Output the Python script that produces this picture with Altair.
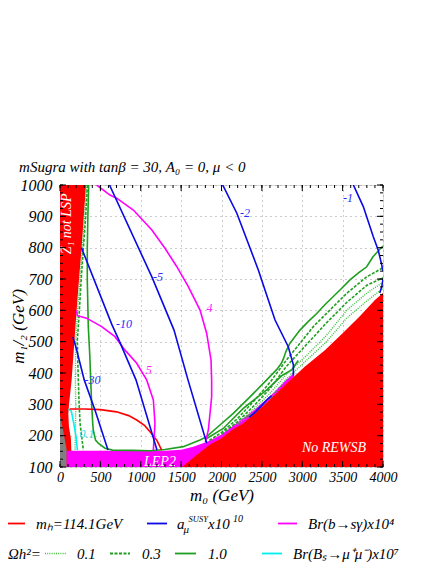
import altair as alt
import pandas as pd

# ---------------- data (m0, m1/2 in GeV) ----------------
x_grid = [0, 500, 1000, 1500, 2000, 2500, 3000, 3500, 4000]
y_grid = [100, 200, 300, 400, 500, 600, 700, 800, 900, 1000]

# No REWSB region boundary (filled below)
rewsb_m0 = [1510, 1700, 1850, 2000, 2130, 2270, 2400, 2560, 2800, 3030, 3280, 3500, 3710, 3900, 4000]
rewsb_m12 = [100, 140, 170, 192, 218, 240, 268, 305, 365, 420, 473, 527, 580, 633, 655]

# LEP2 excluded region upper edge
lep_m0 = [83, 600, 1300, 1500, 1650, 1830, 2000, 2200, 2400, 2600, 2800, 2900]
lep_m12 = [152, 152, 152, 155, 165, 181, 204, 242, 281, 326, 378, 400]

# Z1 not LSP region (m0 edge as a function of m1/2)
z1_m12 = [100, 154, 190, 230, 270, 300, 378, 500, 600, 700, 800, 900, 1000]
z1_m0 = [140, 140, 135, 110, 103, 112, 144, 178, 206, 236, 268, 295, 322]

# grey region
grey_m12 = [100, 154, 215, 266]
grey_m0 = [83, 83, 40, 0]

# a_mu^SUSY x 10^10 contours
amu_m1_m0 = [3633, 3756, 3880, 3940, 3980, 4000]
amu_m1_m12 = [1000, 931, 835, 793, 750, 725]
amu_m1b_m0 = [4000, 3985, 3960]
amu_m1b_m12 = [700, 676, 655]
amu_m1c_m0 = [2340, 2420, 2480, 2560, 2620]
amu_m1c_m12 = [258, 276, 292, 314, 328]
amu_m2_m0 = [2015, 2190, 2456, 2580, 2663, 2827, 2890, 2890]
amu_m2_m12 = [1000, 910, 729, 633, 569, 484, 426, 392]
amu_m5_m0 = [613, 1139, 1412, 1585, 1817]
amu_m5_m12 = [1000, 706, 537, 378, 176]
amu_m10_m0 = [265, 640, 730, 941, 1201]
amu_m10_m12 = [800, 556, 505, 378, 154]
amu_m30_m0 = [160, 200, 300, 433, 594]
amu_m30_m12 = [515, 480, 378, 282, 154]

# Br(b -> s gamma) x 10^4 contours
bsg4_m0 = [454, 619, 702, 908, 1135, 1300, 1445, 1589, 1734, 1816, 1870, 1878, 1878, 1837, 1817, 1800]
bsg4_m12 = [1000, 968, 958, 920, 857, 798, 740, 676, 601, 527, 442, 378, 324, 218, 197, 180]
bsg5_m0 = [205, 215, 330, 516, 681, 805, 950, 1073, 1156, 1176, 1156]
bsg5_m12 = [600, 583, 575, 548, 516, 473, 431, 378, 314, 239, 154]

# m_h = 114.1 GeV
mh_m0 = [120, 300, 500, 700, 850, 950, 1050, 1130, 1200, 1259]
mh_m12 = [285, 285, 283, 276, 264, 250, 232, 208, 185, 154]

# Br(Bs -> mu mu) x 10^7
bsmm_m0 = [105, 140, 170, 200, 215]
bsmm_m12 = [285, 278, 240, 195, 154]

# Omega h^2 = 1.0 (solid)
oh10_m0 = [355, 345, 338, 338, 350, 370, 380, 392, 405, 412, 440, 474, 557, 650, 900, 1115,
           1300, 1527, 1734, 1817, 1981, 2146, 2353, 2560, 2680, 2740, 2766, 2800, 2848,
           2972, 3070, 3179, 3280, 3385, 3480, 3591, 3700, 3798, 3876, 3960, 4000]
oh10_m12 = [1000, 900, 800, 697, 550, 450, 378, 300, 240, 218, 186, 176, 160, 154, 153, 152,
            156, 165, 186, 197, 234, 271, 324, 378, 410, 430, 445, 470, 495,
            537, 563, 590, 618, 644, 668, 697, 720, 739, 771, 795, 805]
oh10b_m0 = [1817, 2022, 2270, 2560, 2750, 2869, 2950]
oh10b_m12 = [191, 223, 287, 346, 392, 410, 440]

# Omega h^2 = 0.3 (dashed)
oh03a_m0 = [340, 318, 290, 262, 240, 215, 222, 227, 235, 248, 289]
oh03a_m12 = [1000, 900, 800, 697, 600, 505, 420, 378, 314, 240, 154]
oh03b_m0 = [1850, 2000, 2200, 2400, 2600, 2800, 2972, 3137, 3385, 3550, 3798, 4000]
oh03b_m12 = [185, 210, 255, 310, 370, 440, 495, 548, 612, 654, 707, 736]
oh03c_m0 = [2000, 2200, 2400, 2600, 2800, 3050, 3300, 3550, 3800, 4000]
oh03c_m12 = [205, 245, 295, 350, 420, 490, 560, 625, 680, 704]

# Omega h^2 = 0.1 (dotted)
oh01a_m0 = [330, 305, 278, 246, 218, 195, 190, 195, 192, 186]
oh01a_m12 = [1000, 900, 800, 697, 600, 505, 378, 300, 220, 154]
oh01b_m0 = [2200, 2400, 2600, 2800, 3050, 3300, 3550, 3800, 4000]
oh01b_m12 = [240, 285, 335, 395, 455, 520, 600, 655, 690]
oh01c_m0 = [2200, 2400, 2600, 2800, 3050, 3300, 3550, 3800, 4000]
oh01c_m12 = [236, 275, 318, 380, 440, 500, 575, 630, 670]

# contour labels
lab_text = ["-1", "-2", "-5", "-10", "-30", "4", "5", "0.1"]
lab_m0 = [3566, 2290, 1215, 793, 403, 1850, 1100, 334]
lab_m12 = [958, 910, 707, 556, 378, 606, 410, 205]
lab_color = ["#2a2aff", "#2a2aff", "#2a2aff", "#2a2aff", "#2a2aff", "#ff22ff", "#ff22ff", "#22dddd"]

# region labels
reg_text = ["LEP2", "No REWSB", "Z\u0303\u2081 not LSP"]
reg_m0 = [1238, 3393, 87]
reg_m12 = [116, 161, 876]
reg_angle = [0, 0, 270]

# ---------------- styling ----------------
W, H = 323, 282
SERIF = "Liberation Serif"
RED, BLUE, MAG, GREEN, LGREEN, CYAN = "#ff0000", "#0a0ae6", "#ff00ff", "#1f9f1f", "#3cc03c", "#00f0f0"

xs = alt.Scale(domain=[0, 4000], nice=False, zero=False)
ys = alt.Scale(domain=[100, 1000], nice=False, zero=False)

AX_X = alt.Axis(
    values=x_grid, format="d", title="m\u2080 (GeV)", grid=True, gridDash=[1, 4], gridColor="#999",
    gridWidth=1, ticks=False, domain=False, labelPadding=3, labelFontSize=14,
    labelFont=SERIF, labelFontStyle="italic", labelColor="black",
    titleFont=SERIF, titleFontStyle="italic", titleFontWeight="normal", titleFontSize=17,
    titleBaseline="alphabetic", titleY=33, titleColor="black", labelFlush=False)
AX_Y = alt.Axis(
    values=y_grid, format="d", title="m\u2081/\u2082 (GeV)", grid=True, gridDash=[1, 4], gridColor="#999",
    gridWidth=1, ticks=False, domain=False, labelPadding=8, labelFontSize=16,
    labelFont=SERIF, labelFontStyle="italic", labelColor="black",
    titleFont=SERIF, titleFontStyle="italic", titleFontWeight="normal", titleFontSize=17,
    titleBaseline="alphabetic", titleX=-37, titleY=141, titleAngle=270, titleAlign="center",
    titleColor="black", labelFlush=False)


def X(**kw):
    return alt.X("m0:Q", scale=xs, axis=AX_X, **kw)


def Y(**kw):
    return alt.Y("m12:Q", scale=ys, axis=AX_Y, **kw)


def line(m0, m12, color, width=1.6, dash=None):
    df = pd.DataFrame({"m0": m0, "m12": m12, "i": list(range(len(m0)))})
    kw = dict(color=color, strokeWidth=width, clip=True)
    if dash is not None:
        kw["strokeDash"] = dash
    return alt.Chart(df).mark_line(**kw).encode(x=X(), y=Y(), order="i:Q")


layers = []

# regions
layers.append(alt.Chart(pd.DataFrame({"m12": z1_m12, "m0": z1_m0})).mark_area(
    color=RED, orient="horizontal", clip=True).encode(x=X(), x2=alt.datum(0), y=Y()))
layers.append(alt.Chart(pd.DataFrame({"m12": grey_m12, "m0": grey_m0})).mark_area(
    color="#808080", orient="horizontal", clip=True).encode(x=X(), x2=alt.datum(0), y=Y()))
layers.append(alt.Chart(pd.DataFrame({"m0": lep_m0, "m12": lep_m12})).mark_area(
    color=MAG, orient="vertical", clip=True).encode(x=X(), y=Y(), y2=alt.datum(100)))
layers.append(alt.Chart(pd.DataFrame({"m0": rewsb_m0, "m12": rewsb_m12})).mark_area(
    color=RED, orient="vertical", clip=True).encode(x=X(), y=Y(), y2=alt.datum(100)))

# contour lines
layers += [
    line(oh01a_m0, oh01a_m12, LGREEN, 1.4, [1, 1.2]),
    line(oh01b_m0, oh01b_m12, LGREEN, 1.4, [1, 1.2]),
    line(oh01c_m0, oh01c_m12, LGREEN, 1.4, [1, 1.2]),
    line(oh03a_m0, oh03a_m12, GREEN, 1.6, [3, 1.5]),
    line(oh03b_m0, oh03b_m12, GREEN, 1.6, [3, 1.5]),
    line(oh03c_m0, oh03c_m12, GREEN, 1.6, [3, 1.5]),
    line(oh10_m0, oh10_m12, GREEN),
    line(oh10b_m0, oh10b_m12, GREEN),
    line(bsmm_m0, bsmm_m12, CYAN),
    line(mh_m0, mh_m12, RED),
    line(bsg4_m0, bsg4_m12, MAG),
    line(bsg5_m0, bsg5_m12, MAG),
    line(amu_m1_m0, amu_m1_m12, BLUE),
    line(amu_m1b_m0, amu_m1b_m12, BLUE),
    line(amu_m1c_m0, amu_m1c_m12, BLUE),
    line(amu_m2_m0, amu_m2_m12, BLUE),
    line(amu_m5_m0, amu_m5_m12, BLUE),
    line(amu_m10_m0, amu_m10_m12, BLUE),
    line(amu_m30_m0, amu_m30_m12, BLUE),
]

# contour labels
lab_df = pd.DataFrame({"m0": lab_m0, "m12": lab_m12, "t": lab_text, "c": lab_color})
layers.append(alt.Chart(lab_df).mark_text(font=SERIF, fontStyle="italic", fontSize=12).encode(
    x=X(), y=Y(), text="t:N", color=alt.Color("c:N", scale=None)))

# region labels
for t, a, b, ang in zip(reg_text, reg_m0, reg_m12, reg_angle):
    layers.append(alt.Chart(pd.DataFrame({"m0": [a], "m12": [b], "t": [t]})).mark_text(
        font=SERIF, fontStyle="italic", fontSize=14, color="white",
        angle=ang).encode(x=X(), y=Y(), text="t:N"))

# inward ticks
x_minor = list(range(0, 4001, 100))
y_minor = list(range(100, 1001, 25))
for vals, ln in [(x_minor, 3), (x_grid, 6)]:
    d = pd.DataFrame({"m0": vals})
    layers.append(alt.Chart(d).mark_rule(color="black", strokeWidth=1).encode(
        x=X(), y=alt.value(H), y2=alt.value(H - ln)))
    layers.append(alt.Chart(d).mark_rule(color="black", strokeWidth=1).encode(
        x=X(), y=alt.value(0), y2=alt.value(ln)))
for vals, ln in [(y_minor, 3), (y_grid, 6)]:
    d = pd.DataFrame({"m12": vals})
    layers.append(alt.Chart(d).mark_rule(color="black", strokeWidth=1).encode(
        y=Y(), x=alt.value(0), x2=alt.value(ln)))
    layers.append(alt.Chart(d).mark_rule(color="black", strokeWidth=1).encode(
        y=Y(), x=alt.value(W), x2=alt.value(W - ln)))

# ---------------- legend (laid out below the plot) ----------------
one = pd.DataFrame({"a": [0]})


def ltext(x, y, t, size=15):
    return alt.Chart(one).mark_text(font=SERIF, fontStyle="italic", fontSize=size, align="left",
                                    baseline="alphabetic", color="black").encode(
        x=alt.value(x), y=alt.value(y), text=alt.value(t))


def lswatch(x1, x2, y, color, dash=None, width=1.8):
    kw = dict(color=color, strokeWidth=width)
    if dash is not None:
        kw["strokeDash"] = dash
    return alt.Chart(one).mark_rule(**kw).encode(x=alt.value(x1), x2=alt.value(x2), y=alt.value(y))


R1, R2 = 338.5, 368.5
T1, T2 = 344, 374
layers += [
    lswatch(-55, -35, R1, RED), ltext(-24, T1, "m\u2095=114.1GeV"),
    lswatch(87, 107, R1, BLUE),
    ltext(117, T1, "a"), ltext(123.5, T1 + 4, "\u03bc", 11), ltext(128.5, T1 - 7, "SUSY", 8.5),
    ltext(148, T1, "x10"), ltext(173, T1 - 7, "10", 10),
    lswatch(218, 237, R1, MAG), ltext(248, T1, "Br(b\u2192s\u03b3)x10\u2074"),
    ltext(-52, T2, "\u03a9h\u00b2="),
    lswatch(-15, 6, R2, LGREEN, [1, 1.2], 1.4), ltext(17, T2, "0.1"),
    lswatch(50, 70, R2, GREEN, [3, 1.5]), ltext(82, T2, "0.3"),
    lswatch(115, 136, R2, GREEN), ltext(148, T2, "1.0"),
    lswatch(202, 222, R2, CYAN), ltext(233, T2, "Br(B\u209b\u2192\u03bc\u207a\u03bc\u207b)x10\u2077"),
]

chart = alt.layer(*layers).properties(
    width=W, height=H,
    title=alt.TitleParams(
        "mSugra with tan\u03b2 = 30, A\u2080 = 0, \u03bc < 0", font=SERIF, fontStyle="italic",
        fontWeight="normal", fontSize=15, anchor="start", dx=15, offset=2, color="black"),
    autosize=alt.AutoSizeParams(type="none"),
    padding={"left": 52, "top": 177, "right": 45, "bottom": 97},
).configure_view(stroke="black", strokeWidth=1).configure(background="white")

chart.save("out.html", embed_options={"renderer": "svg", "actions": False})
